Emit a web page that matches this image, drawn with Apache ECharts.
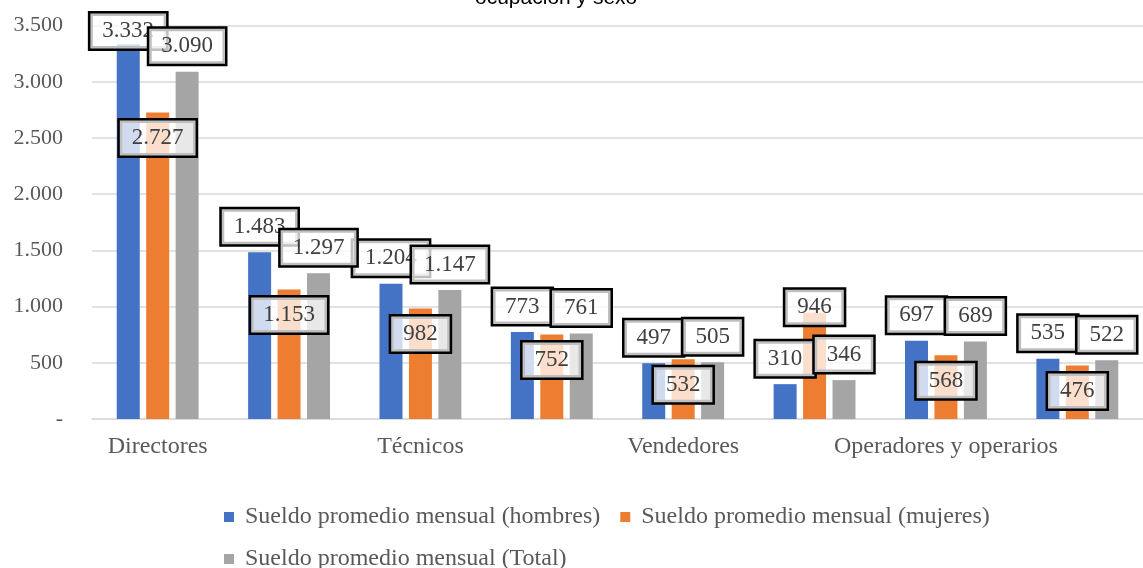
<!DOCTYPE html>
<html>
<head>
<meta charset="utf-8">
<script src="https://cdn.jsdelivr.net/npm/echarts@6/dist/echarts.min.js"></script>
<style>
  html, body { margin: 0; padding: 0; background: #fff; }
  #chart { width: 1143px; height: 568px; }
</style>
</head>
<body>
<div id="chart"></div>
<script>
// grupos de ocupacion (Excel oculta una de cada dos etiquetas)
const categories = [
  'Directores',
  'Profesionales',
  'Técnicos',
  'Empleados de oficina',
  'Vendedores',
  'Agricultores',
  'Operadores y operarios',
  'Ocupaciones elementales'
]
const hombres = [3332, 1483, 1204, 773, 497, 310, 697, 535]
const mujeres = [2727, 1153, 982, 752, 532, 946, 568, 476]
const total = [3090, 1297, 1147, 761, 505, 346, 689, 522]
const yTicks = [0, 500, 1000, 1500, 2000, 2500, 3000, 3500]

const fmt = v => v === 0 ? '-' : String(v).replace(/\B(?=(\d{3})+(?!\d))/g, '.')

const serif = "'Liberation Serif', 'DejaVu Serif', serif"

const boxLabel = {
  show: true,
  formatter: p => fmt(p.value),
  fontFamily: serif,
  fontSize: 23,
  lineHeight: 23,
  color: '#404040',
  textBorderWidth: 0,
  textShadowBlur: 0,
  backgroundColor: 'rgba(255,255,255,0.75)',
  borderColor: '#000',
  borderWidth: 2.5,
  padding: [6, 12, 6, 12]
}

// etiquetas movidas a mano en el original
const labelFix = {
  hombres: { 0: { offset: [0, 12] } },
  mujeres: { 5: { position: 'top', offset: [0, 20] } },
  total: {}
}

function buildData (values, key) {
  return values.map((v, i) => labelFix[key][i] ? { value: v, label: labelFix[key][i] } : v)
}

const chart = echarts.init(document.getElementById('chart'))

chart.setOption({
  animation: false,
  color: ['#4472C4', '#ED7D31', '#A5A5A5'],
  title: {
    text: 'ocupación y sexo',
    left: 470,
    top: -17,
    textStyle: {
      fontFamily: "'Liberation Sans', sans-serif",
      fontSize: 21,
      fontWeight: 'normal',
      color: '#000'
    }
  },
  grid: {
    left: 92,
    right: -10,
    top: 25.6,
    bottom: 149,
    containLabel: false
  },
  legend: {
    left: 219,
    top: 500,
    width: 820,
    icon: 'rect',
    itemWidth: 10,
    itemHeight: 10,
    itemGap: 18,
    textStyle: {
      fontFamily: serif,
      fontSize: 24,
      color: '#595959',
      lineHeight: 20,
      padding: [0, 2, 0, 6]
    }
  },
  xAxis: {
    type: 'category',
    data: categories,
    axisLine: { lineStyle: { color: '#d9d9d9', width: 1.5 } },
    axisTick: { show: false },
    axisLabel: {
      interval: 1,
      margin: 16,
      fontFamily: serif,
      fontSize: 24,
      color: '#595959'
    }
  },
  yAxis: {
    type: 'value',
    min: yTicks[0],
    max: yTicks[yTicks.length - 1],
    interval: yTicks[1] - yTicks[0],
    axisLine: { show: false },
    axisTick: { show: false },
    splitLine: { lineStyle: { color: '#d9d9d9', width: 1.5 } },
    axisLabel: {
      margin: 29,
      fontFamily: serif,
      fontSize: 22,
      color: '#595959',
      formatter: fmt
    }
  },
  series: [
    {
      name: 'Sueldo promedio mensual (hombres)',
      type: 'bar',
      barWidth: 23,
      barGap: '28%',
      data: buildData(hombres, 'hombres'),
      label: Object.assign({}, boxLabel, { position: 'top', distance: 8 })
    },
    {
      name: 'Sueldo promedio mensual (mujeres)',
      type: 'bar',
      barWidth: 23,
      barGap: '28%',
      data: buildData(mujeres, 'mujeres'),
      label: Object.assign({}, boxLabel, { position: 'insideTop', distance: 8 })
    },
    {
      name: 'Sueldo promedio mensual (Total)',
      type: 'bar',
      barWidth: 23,
      barGap: '28%',
      data: buildData(total, 'total'),
      label: Object.assign({}, boxLabel, { position: 'top', distance: 8 })
    }
  ]
})
</script>
</body>
</html>
